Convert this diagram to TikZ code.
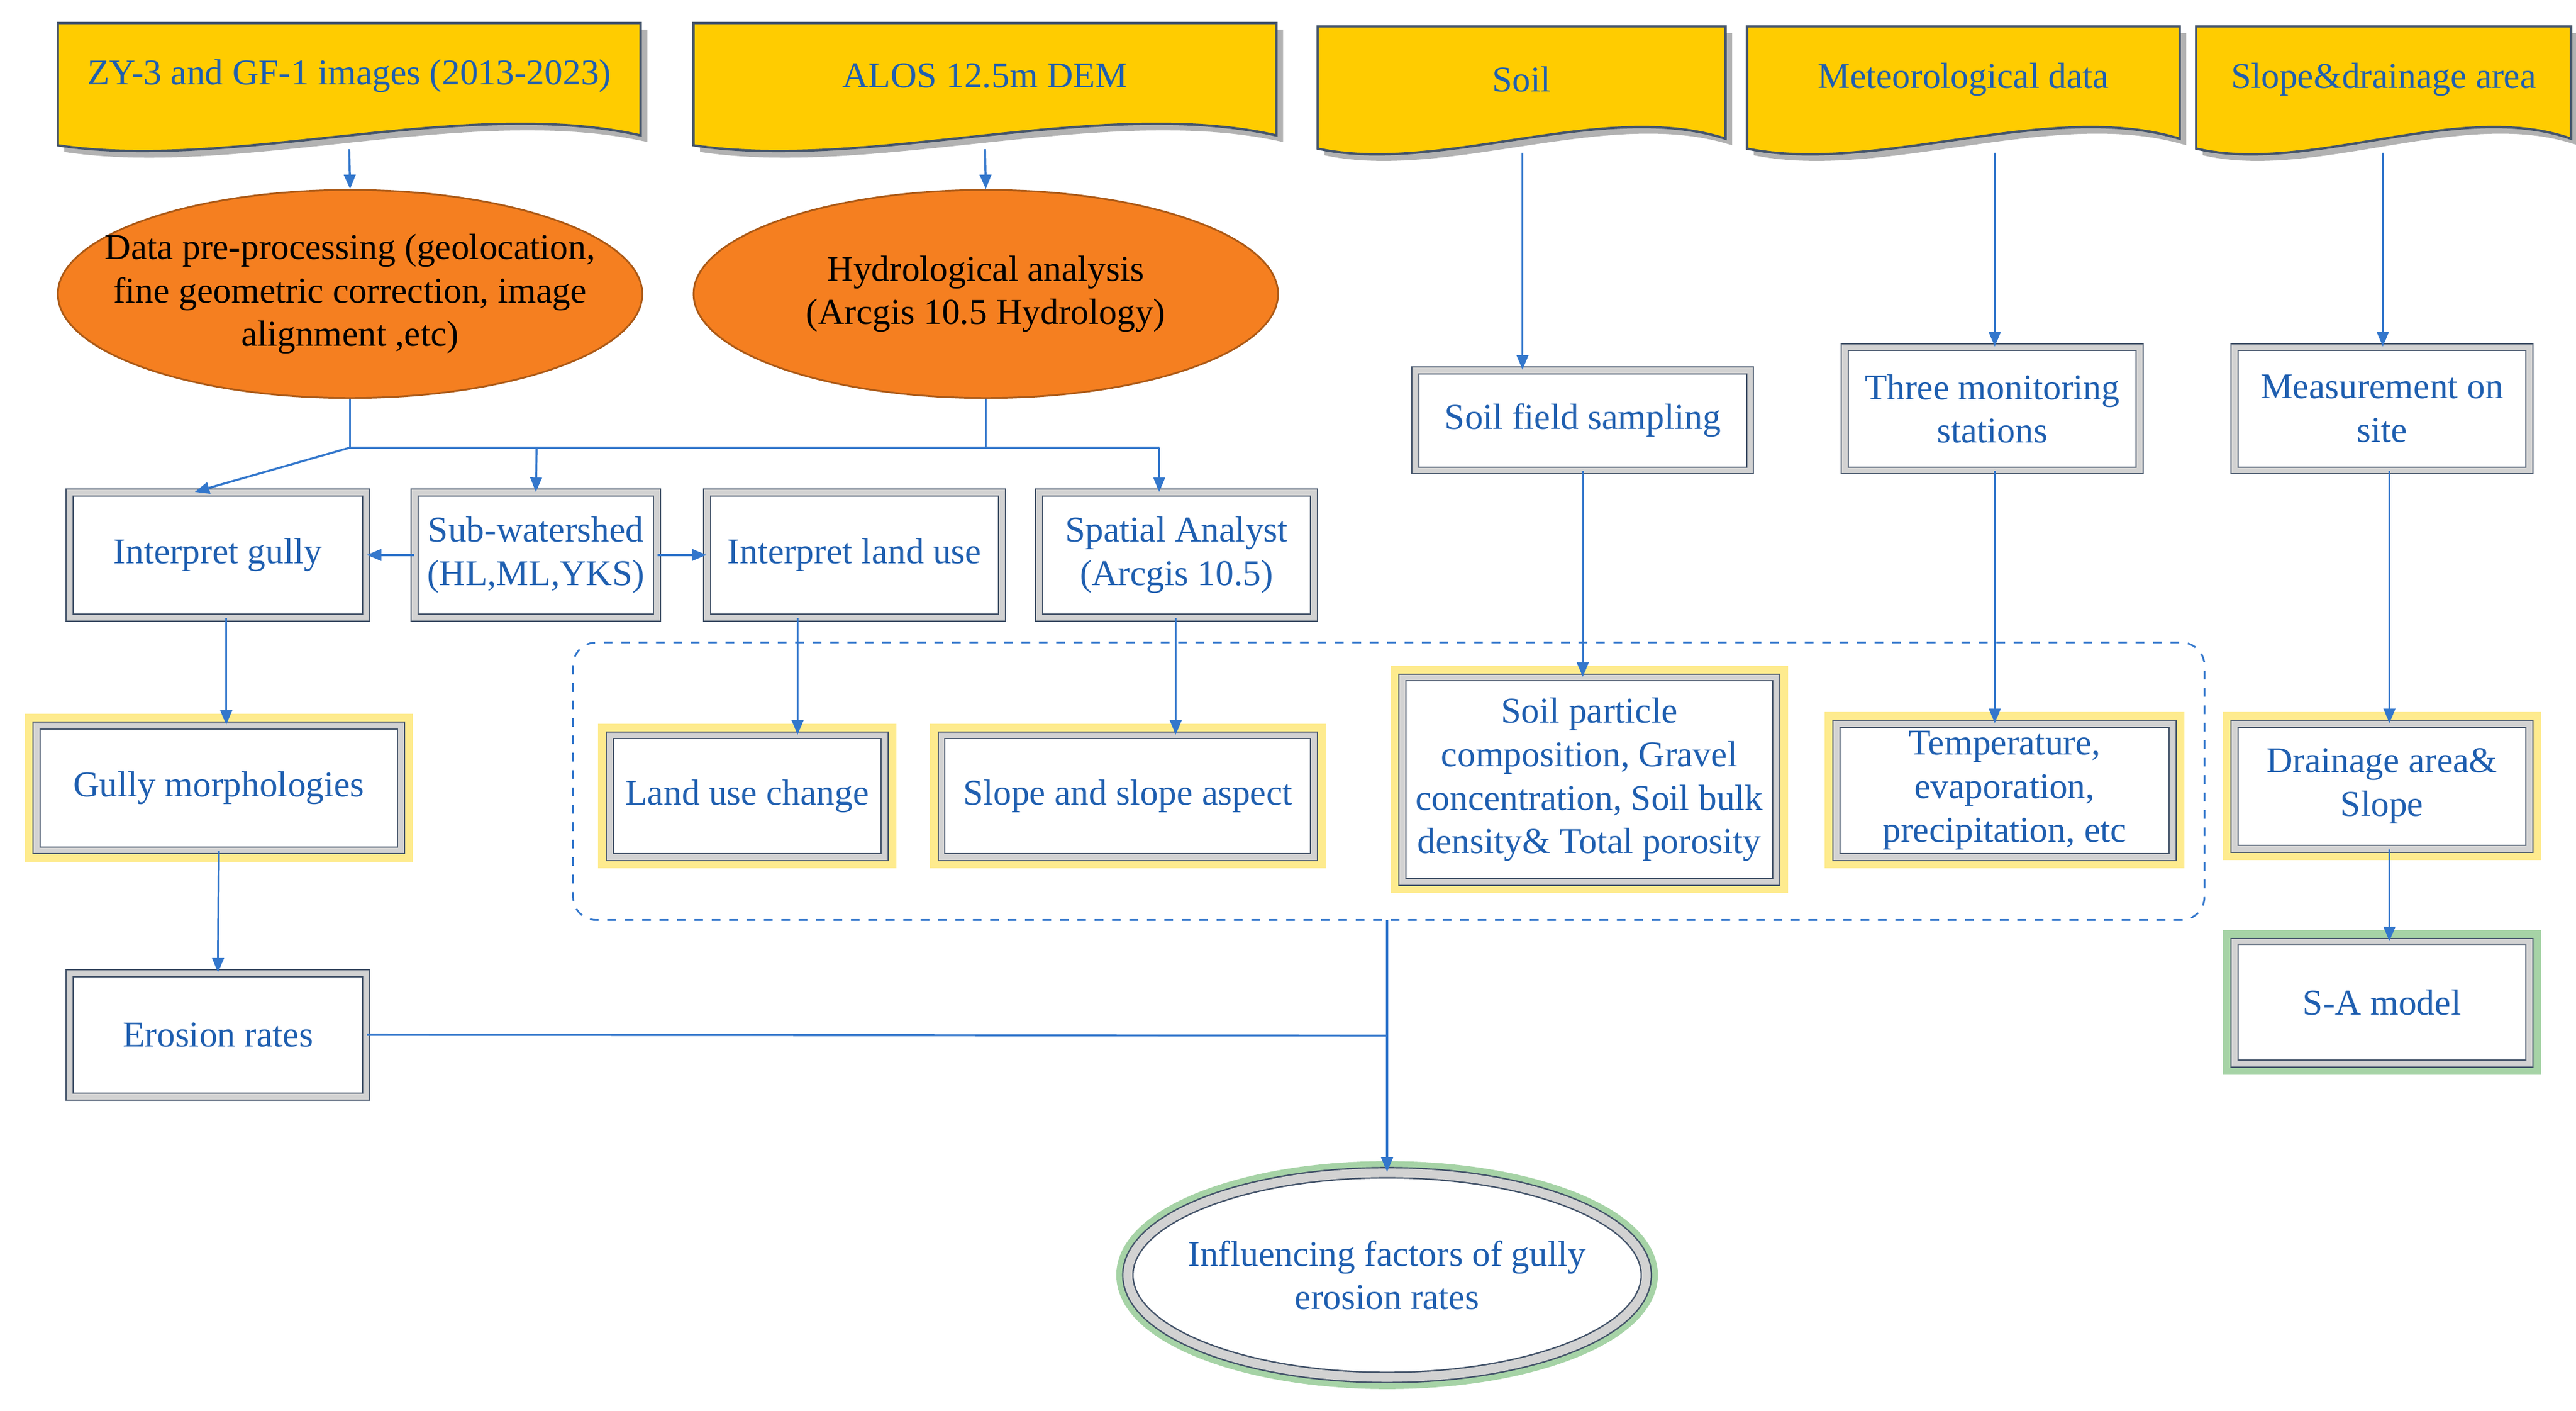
\documentclass[tikz,border=0pt]{standalone}
\usepackage{fontspec}
\setmainfont{Liberation Serif}
\usetikzlibrary{arrows.meta,shapes.geometric}
\definecolor{tblue}{HTML}{1F5FB0}
\definecolor{lblue}{HTML}{3377CC}
\definecolor{gold}{HTML}{FFCC00}
\definecolor{orng}{HTML}{F57F20}
\definecolor{slate}{HTML}{44546A}
\tikzset{
 u/.style={x=0.02cm,y=-0.02cm},
 txt/.style={font=\fontsize{12.5}{15}\selectfont, text=tblue, align=center},
 box/.style={txt, rectangle, fill=white, draw=slate, line width=0.4pt, double=gray!35, double distance=2pt, inner sep=2pt},
 yglow/.style={preaction={draw=yellow!70!orange, line width=8pt, opacity=0.45}},
 gglow/.style={preaction={draw=green!50!black, line width=8pt, opacity=0.35}},
 oell/.style={ellipse, fill=orng, draw=orng!70!black, line width=0.6pt, font=\fontsize{12.5}{15}\selectfont, align=center, inner xsep=-14pt, inner ysep=0pt},
 con/.style={draw=lblue, line width=0.7pt},
 arr/.style={con, -{Triangle[length=5pt,width=4pt]}},
 banner/.style={fill=gold, draw=slate, line width=0.8pt},
}
\newcommand\bann[6]{% name x1 y1 x2 y2 text
 \fill[gray!60] (#2+4,#3+4) -- (#4+4,#3+4) -- (#4+4,#5-4) .. controls ({(#2+#4)/2+(#4-#2)*0.2+4},#5-28) and ({(#2+#4)/2-(#4-#2)*0.2+4},#5+18) .. (#2+4,#5+2) -- cycle;
 \path[banner] (#2,#3) -- (#4,#3) -- (#4,#5-8) .. controls ({(#2+#4)/2+(#4-#2)*0.2},#5-32) and ({(#2+#4)/2-(#4-#2)*0.2},#5+14) .. (#2,#5-2) -- cycle;
 \node[txt, minimum width={(#4-#2)*0.02cm}, minimum height={(#5-#3)*0.02cm}, inner sep=0pt] (#1) at ({(#2+#4)/2},{(#3+#5)/2}) {};
 \node[txt] at ({(#2+#4)/2},{#3+32}) {#6};
}
\newcommand\bx[7][]{% opts name x1 y1 x2 y2 text
 \node[box,#1, minimum width={(#5-#3)*0.02cm-2.5pt}, minimum height={(#6-#4)*0.02cm-2.5pt}] (#2) at ({(#3+#5)/2},{(#4+#6)/2}) {#7};
}
\begin{document}
\begin{tikzpicture}[u]
\useasboundingbox (0,0) rectangle (1560,854);
\bann{b1}{35}{14}{388}{90}{ZY-3 and GF-1 images (2013-2023)}
\bann{b2}{420}{14}{773}{90}{ALOS 12.5m DEM}
\bann{b3}{798}{16}{1045}{92}{Soil}
\bann{b4}{1058}{16}{1320}{92}{Meteorological data}
\bann{b5}{1330}{16}{1557}{92}{Slope\&drainage area}

\node[oell, minimum width=7.08cm, minimum height=2.52cm] (e1) at (212,178) {Data pre-processing (geolocation,\\ fine geometric correction, image\\ alignment ,etc)};
\node[oell, minimum width=7.08cm, minimum height=2.52cm] (e2) at (597,178) {Hydrological analysis\\ (Arcgis 10.5 Hydrology)};

\bx{ig}{40}{296}{224}{376}{Interpret gully}
\bx{sw}{249}{296}{400}{376}{Sub-watershed\\(HL,ML,YKS)}
\bx{il}{426}{296}{609}{376}{Interpret land use}
\bx{sa}{627}{296}{798}{376}{Spatial Analyst\\(Arcgis 10.5)}
\bx{sf}{855}{222}{1062}{287}{Soil field sampling}
\bx{tm}{1115}{208}{1298}{287}{Three monitoring\\stations}
\bx{ms}{1351}{208}{1534}{287}{Measurement on\\site}

\draw[lblue, dashed, line width=0.6pt, rounded corners=8pt] (347,389) rectangle (1335,557);
\coordinate (dB) at (840,557);

\bx[yglow]{gm}{20}{437}{245}{517}{Gully morphologies}
\bx[yglow]{lu}{367}{443}{538}{521}{Land use change}
\bx[yglow]{ss}{568}{443}{798}{521}{Slope and slope aspect}
\bx[yglow]{sp}{847}{408}{1078}{536}{Soil particle\\composition, Gravel\\concentration, Soil bulk\\density\& Total porosity}
\bx[yglow]{te}{1110}{436}{1318}{521}{Temperature,\\evaporation,\\precipitation, etc}
\bx[yglow]{da}{1351}{436}{1534}{516}{Drainage area\&\\Slope}
\bx{er}{40}{587}{224}{666}{Erosion rates}
\bx[gglow]{sam}{1351}{568}{1534}{646}{S-A model}

\node[txt, ellipse, fill=white, draw=slate, line width=0.5pt, double=gray!35, double distance=3pt, gglow, minimum width=6.28cm, minimum height=2.48cm, inner xsep=-8pt, inner ysep=0pt] (fin) at (840,772) {Influencing factors of gully\\erosion rates};

% connectors
\draw[arr] (b1.south) -- (e1.north);
\draw[arr] (b2.south) -- (e2.north);
\coordinate (j1) at (212,271); \coordinate (j2) at (597,271);
\draw[con] (e1.south) -- (j1) -- (702,271);
\draw[con] (e2.south) -- (j2);
\draw[arr] (j1) -- (ig.north-|118,0);
\draw[arr] (325,271) -- (sw.north);
\draw[arr] (702,271) -- (sa.north-|702,0);
\draw[arr] (sw.west) -- (ig.east);
\draw[arr] (sw.east) -- (il.west);
\draw[arr] (ig.south-|137,0) -- (gm.north-|137,0);
\draw[arr] (gm.south) -- (er.north);
\draw[arr] (il.south-|483,0) -- (lu.north-|483,0);
\draw[arr] (sa.south-|712,0) -- (ss.north-|712,0);
\draw[arr] (b3.south-|922,0) -- (sf.north-|922,0);
\draw[arr] (sf.south) -- (sp.north-|sf.south);
\draw[arr] (b4.south-|1208,0) -- (tm.north-|1208,0);
\draw[arr] (tm.south-|1208,0) -- (te.north-|1208,0);
\draw[arr] (b5.south-|1443,0) -- (ms.north-|1443,0);
\draw[arr] (ms.south-|1447,0) -- (da.north-|1447,0);
\draw[arr] (da.south-|1447,0) -- (sam.north-|1447,0);
\draw[con] (er.east) -- (840,627);
\draw[arr] (dB) -- (fin.north);
\end{tikzpicture}
\end{document}
